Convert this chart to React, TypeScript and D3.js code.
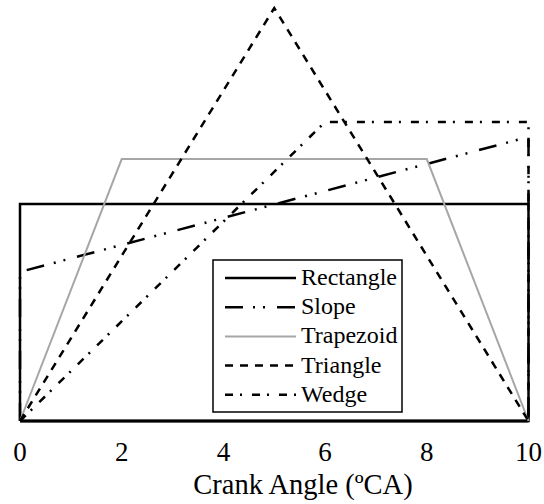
import * as d3 from "d3";

type Pt = [number, number];

// crank angle ticks
const xTicks = [0, 2, 4, 6, 8, 10];

// profile shapes (x = crank angle, y = relative lift)
const rectangle: Pt[] = [[0, 0], [0, 1], [10, 1], [10, 0], [0, 0]];
const slope: Pt[] = [[0, 0], [0, 0.687], [10, 1.309], [10, 0]];
const trapezoid: Pt[] = [[0, 0], [2, 1.207], [8, 1.207], [10, 0]];
const triangle: Pt[] = [[0, 0], [5, 1.903], [10, 0]];
const wedge: Pt[] = [[0, 0], [6, 1.378], [10, 1.378], [10, 0]];

const seriesNames = ["Rectangle", "Slope", "Trapezoid", "Triangle", "Wedge"];
const seriesData = [rectangle, slope, trapezoid, triangle, wedge];
const strokes = ["#000", "#000", "#a6a6a6", "#000", "#000"];
const dashes = ["", "18,10,2,8,2,12", "", "8,7", "8,7,2,10"];
const widths = [2.5, 2.5, 2, 2.5, 2.5];

const font = "Liberation Serif";

const App = () => {
  const x = d3.scaleLinear().domain([0, 10]).range([20, 528.5]);
  const y = d3.scaleLinear().domain([0, 1]).range([421, 204]);
  const line = d3.line<Pt>().x(d => x(d[0])).y(d => y(d[1]));

  return (
    <svg width={544} height={504} style={{ position: "absolute", left: 0, top: 0 }}>
      {/* bottom axis line */}
      <line x1={x(0)} x2={x(10)} y1={y(0)} y2={y(0)} stroke="#000" strokeWidth={3} />

      {seriesData.map((d, i) => (
        <path key={seriesNames[i]} d={line(d) ?? ""} fill="none"
          stroke={strokes[i]} strokeWidth={widths[i]}
          strokeDasharray={dashes[i] || undefined} />
      ))}

      {xTicks.map(t => (
        <text key={t} x={x(t)} y={461} textAnchor="middle" fontFamily={font} fontSize={27}>{t}</text>
      ))}

      <text x={303} y={494} textAnchor="middle" fontFamily={font} fontSize={28.5}>
        Crank Angle (ºCA)
      </text>

      {/* legend */}
      <rect x={213} y={260} width={189} height={152} fill="#fff" stroke="#000" strokeWidth={1.5} />
      {seriesNames.map((name, i) => (
        <g key={name} transform={`translate(0,${278 + i * 29.2})`}>
          <line x1={225} x2={296} y1={0} y2={0} stroke={strokes[i]} strokeWidth={widths[i]}
            strokeDasharray={dashes[i] || undefined} />
          <text x={301} y={7} fontFamily={font} fontSize={24}>{name}</text>
        </g>
      ))}
    </svg>
  );
};

export default App;
